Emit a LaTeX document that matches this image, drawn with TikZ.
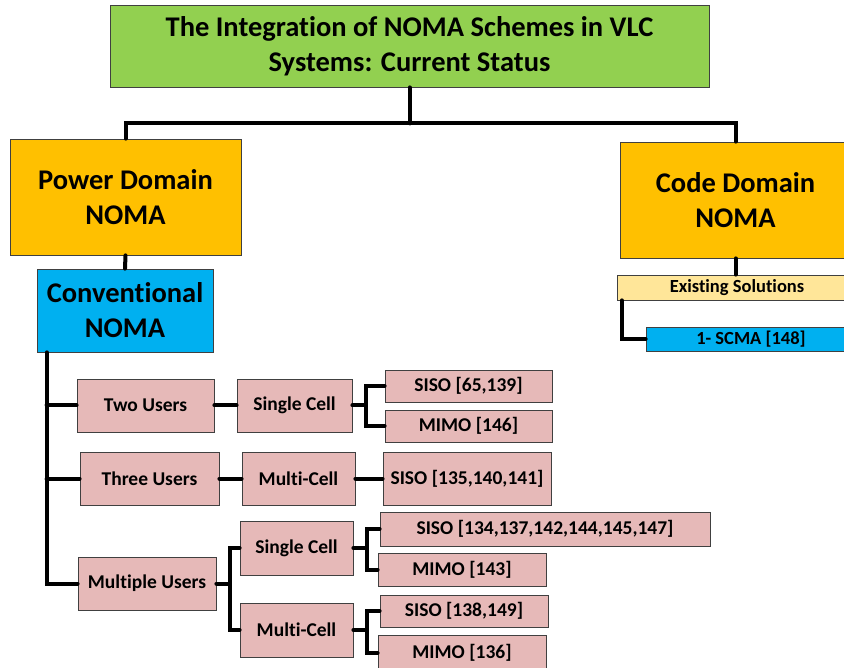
\documentclass[tikz,border=0pt]{standalone}
\usepackage{fontspec}
\setmainfont{Carlito}[Ligatures=NoCommon]
\definecolor{titlegreen}{HTML}{92D050}
\definecolor{domorange}{HTML}{FFC000}
\definecolor{convblue}{HTML}{00B0F0}
\definecolor{leafpink}{HTML}{E6B9B8}
\definecolor{solyellow}{HTML}{FFE699}
\tikzset{
  box/.style={draw=black!75, line width=0.8pt, align=center, inner sep=0pt},
  big/.style={box, font=\fontsize{28.5}{35}\selectfont\bfseries},
  small/.style={box, fill=leafpink, font=\fontsize{19.5}{22}\selectfont\bfseries},
  wire/.style={line width=4pt, line cap=round}
}

\begin{document}
\begin{tikzpicture}[x=1pt, y=-1pt]
\useasboundingbox (0,0) rectangle (844,668);
\node[big, fill=titlegreen, minimum width=599, minimum height=82] (title) at (409.5,46)
  {The Integration of NOMA Schemes in VLC\\Systems: Current Status};
\node[big, fill=domorange, minimum width=231, minimum height=116] (power) at (125.5,197) {Power Domain\\NOMA};
\node[big, fill=domorange, minimum width=231, minimum height=116] (code) at (735.5,200) {Code Domain\\NOMA};
\node[big, fill=convblue, minimum width=176, minimum height=83] (conv) at (125,310.5) {Conventional\\NOMA};
\node[small, fill=solyellow, font=\fontsize{18.5}{22}\selectfont\bfseries, minimum width=240, minimum height=25] (exist) at (737,287.5) {Existing Solutions};
\node[small, fill=convblue, font=\fontsize{18.5}{22}\selectfont\bfseries, minimum width=210, minimum height=24] (scma) at (751,339) {1- SCMA [148]};

\node[small, minimum width=137, minimum height=53] (two) at (145.5,405.5) {Two Users};
\node[small, minimum width=115, minimum height=53] (sc1) at (294.5,405.5) {Single Cell};
\node[small, minimum width=167, minimum height=32] (siso1) at (468.5,386) {SISO [65,139]};
\node[small, minimum width=167, minimum height=32] (mimo1) at (468.5,426) {MIMO [146]};
\node[small, minimum width=139, minimum height=53] (three) at (149.5,478.5) {Three Users};
\node[small, minimum width=113, minimum height=53] (mc2) at (298.5,478.5) {Multi-Cell};
\node[small, minimum width=168, minimum height=53] (siso2) at (467,478.5) {SISO [135,140,141]};
\node[small, minimum width=138, minimum height=53] (mu) at (147,583.5) {Multiple Users};
\node[small, minimum width=113, minimum height=54] (sc3) at (296.5,548) {Single Cell};
\node[small, minimum width=113, minimum height=54] (mc4) at (296.5,630) {Multi-Cell};
\node[small, minimum width=330, minimum height=34] (siso3) at (545,529) {SISO [134,137,142,144,145,147]};
\node[small, minimum width=168, minimum height=33] (mimo3) at (462,569.5) {MIMO [143]};
\node[small, minimum width=168, minimum height=32] (siso4) at (464,611) {SISO [138,149]};
\node[small, minimum width=168, minimum height=36] (mimo4) at (462,653) {MIMO [136]};

\draw[wire] (title.south) -- ++(0,36) coordinate (top);
\draw[wire] (power.north) |- (top) -| (code.north);
\draw[wire] (power.south) -- (conv.north);
\draw[wire] (code.south) -- (code.south |- exist.north);
\draw[wire] ([xshift=5]exist.south west) |- (scma.west);
\coordinate (trunk) at ([xshift=10]conv.south west);
\draw[wire] (trunk) |- (mu.west);
\draw[wire] (trunk |- two.west) -- (two.west);
\draw[wire] (trunk |- three.west) -- (three.west);
\draw[wire] (two) -- (sc1);
\draw[wire] (three) -- (mc2);
\draw[wire] (mc2) -- (siso2);
\foreach \a/\b/\c in {sc1/siso1/mimo1, mu/sc3/mc4, sc3/siso3/mimo3, mc4/siso4/mimo4}
  \draw[wire] (\a.east) -- ++(14,0) coordinate (fork) |- (\b.west) (fork) |- (\c.west);
\end{tikzpicture}
\end{document}
